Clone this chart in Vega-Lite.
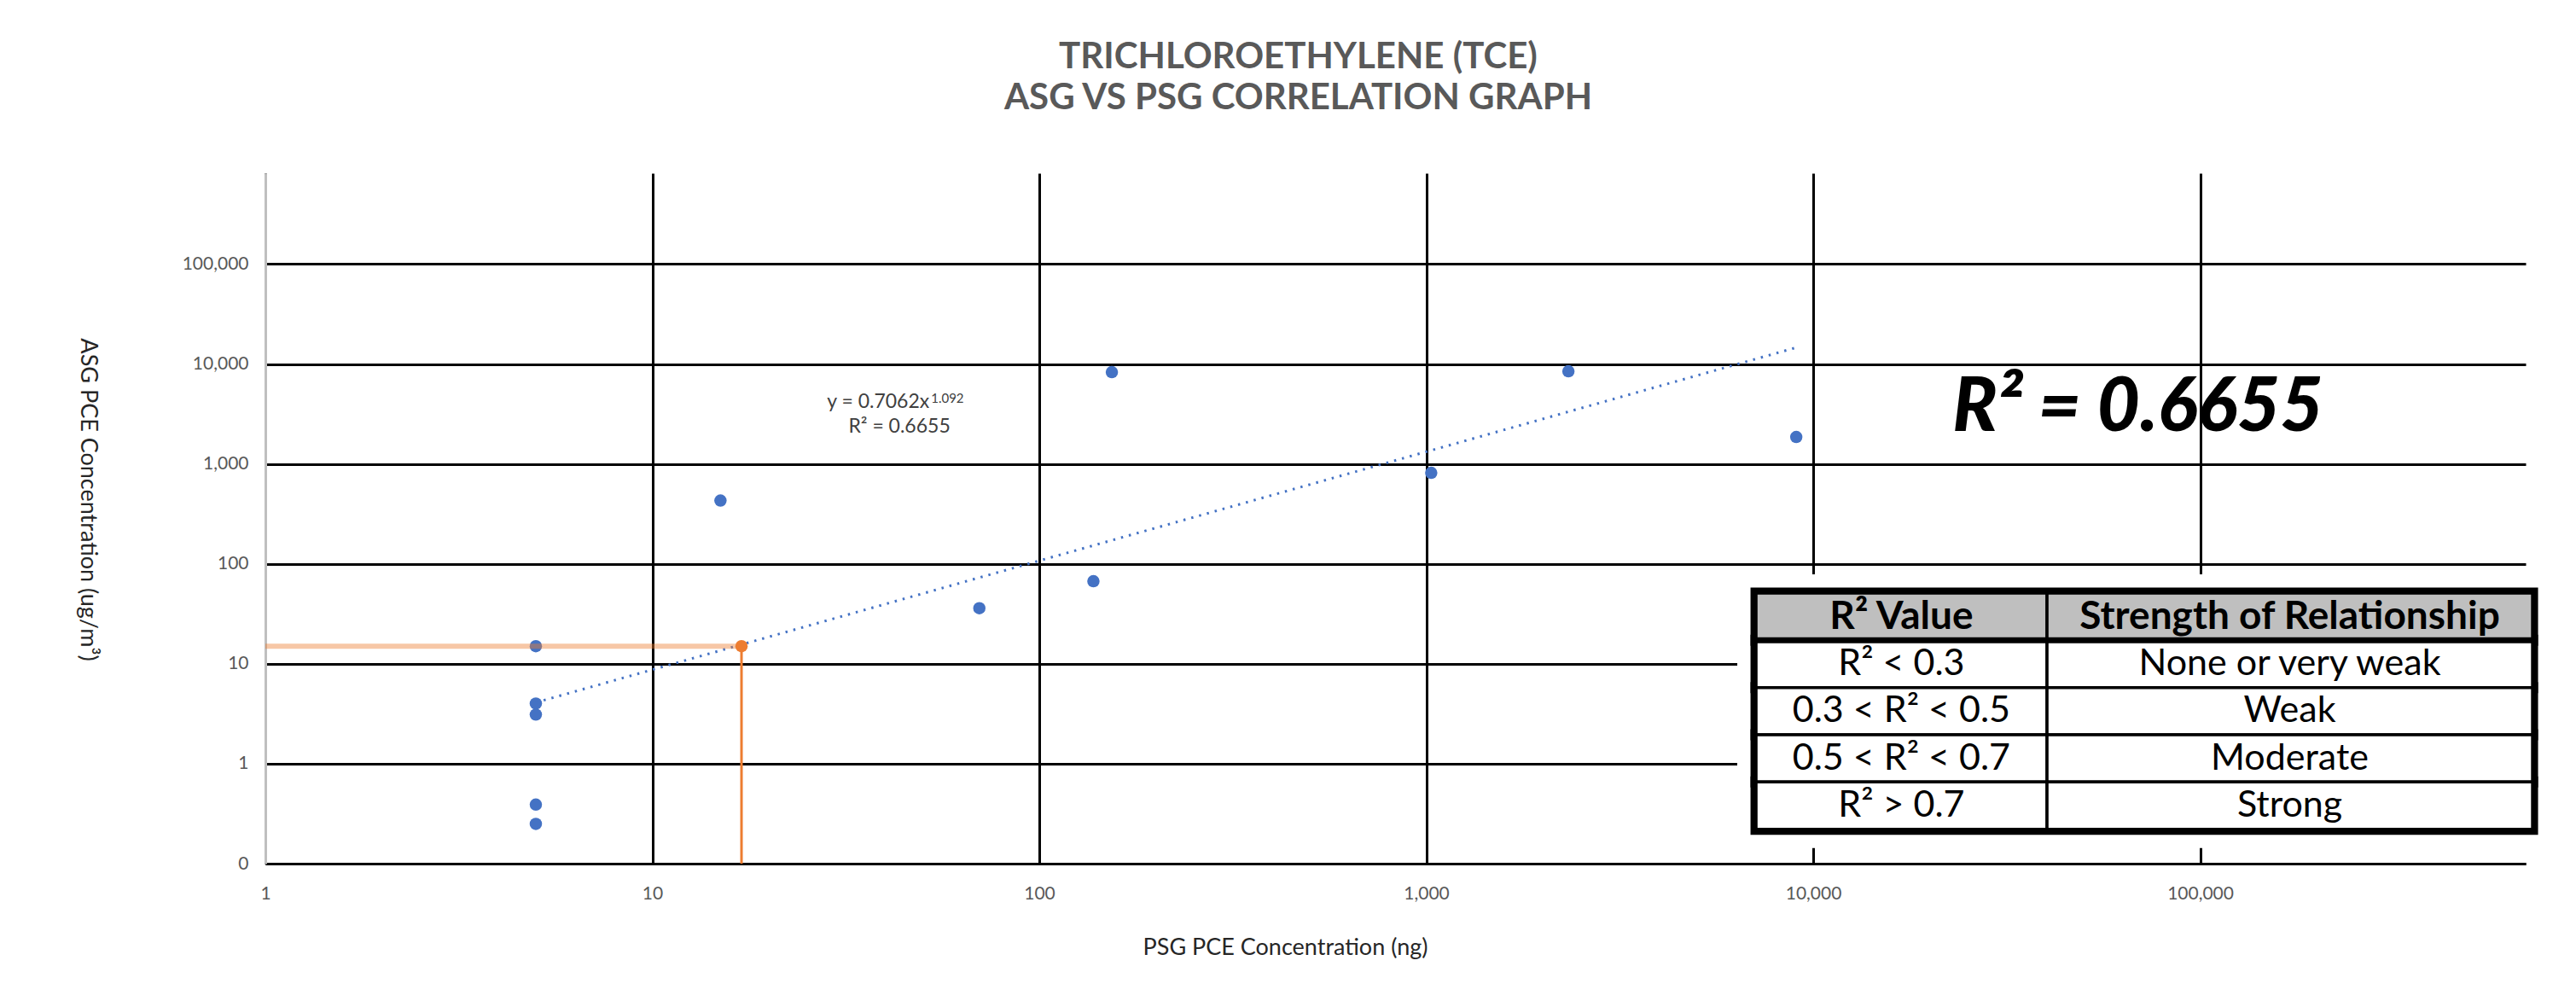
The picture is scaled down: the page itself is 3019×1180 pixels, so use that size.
{
  "$schema": "https://vega.github.io/schema/vega-lite/v6.json",
  "width": 2649,
  "height": 809,
  "autosize": {"type": "none"},
  "padding": {"left": 311, "top": 203, "right": 59, "bottom": 168},
  "background": "white",
  "config": {"view": {"stroke": null}, "font": "Lato"},
  "title": {
    "text": ["TRICHLOROETHYLENE (TCE)", "ASG VS PSG CORRELATION GRAPH"],
    "font": "Lato",
    "fontSize": 42,
    "fontWeight": "bold",
    "color": "#595959",
    "anchor": "middle",
    "frame": "group",
    "dx": -114,
    "offset": 66,
    "lineHeight": 48
  },
  "layer": [
    {
      "data": {"values": [
        {"psg": 5, "asg": 15},
        {"psg": 5, "asg": 4.0},
        {"psg": 5, "asg": 3.1},
        {"psg": 5, "asg": 0.39},
        {"psg": 5, "asg": 0.25},
        {"psg": 15, "asg": 430},
        {"psg": 70, "asg": 36},
        {"psg": 138, "asg": 67},
        {"psg": 154, "asg": 8300},
        {"psg": 1030, "asg": 815},
        {"psg": 2330, "asg": 8460},
        {"psg": 9040, "asg": 1860}
      ]},
      "layer": [
        {
          "mark": {"type": "circle", "size": 210, "color": "#4472C4", "opacity": 1},
          "encoding": {
            "x": {
              "field": "psg", "type": "quantitative",
              "scale": {"type": "log", "domain": [1, 693600], "nice": false},
              "axis": {
                "values": [1, 10, 100, 1000, 10000, 100000],
                "format": ",",
                "title": "PSG PCE Concentration (ng)",
                "grid": true,
                "gridColor": "black",
                "gridWidth": 3,
                "gridOpacity": 1,
                "ticks": false,
                "tickSize": 0,
                "domainColor": "black",
                "domainWidth": 3,
                "labelFont": "Lato",
                "labelFontSize": 21,
                "labelColor": "#595959",
                "labelPadding": 24,
                "labelFlush": false,
                "labelOverlap": false,
                "titleFont": "Lato",
                "titleFontSize": 27,
                "titleFontWeight": "normal",
                "titleColor": "#262626",
                "titleX": 1195,
                "titleY": 106,
                "titleAlign": "center",
                "titleBaseline": "alphabetic"
              }
            },
            "y": {
              "field": "asg", "type": "quantitative",
              "scale": {"type": "log", "domain": [0.1, 811000], "nice": false},
              "axis": {
                "values": [0.1, 1, 10, 100, 1000, 10000, 100000],
                "labelExpr": "datum.value < 1 ? '0' : format(datum.value, ',')",
                "title": "ASG PCE Concentration (ug/m³)",
                "grid": true,
                "gridColor": "black",
                "gridWidth": 3,
                "gridOpacity": 1,
                "ticks": false,
                "tickSize": 0,
                "domainColor": "#bfbfbf",
                "domainWidth": 3,
                "labelFont": "Lato",
                "labelFontSize": 21,
                "labelColor": "#595959",
                "labelPadding": 20,
                "labelOverlap": false,
                "labelFlush": false,
                "titleFont": "Lato",
                "titleFontSize": 27,
                "titleFontWeight": "normal",
                "titleColor": "#262626",
                "titleAngle": 90,
                "titleX": -217,
                "titleY": 382,
                "titleAlign": "center",
                "titleBaseline": "alphabetic"
              }
            }
          }
        },
        {
          "transform": [{"regression": "asg", "on": "psg", "method": "pow"}],
          "mark": {"type": "line", "color": "#4472C4", "strokeWidth": 3, "strokeDash": [2.5, 7]},
          "encoding": {
            "x": {"field": "psg", "type": "quantitative", "scale": {"type": "log"}},
            "y": {"field": "asg", "type": "quantitative", "scale": {"type": "log"}}
          }
        },
        {
          "data": {"values": [{"psg": 17, "asg": 15}]},
          "mark": {"type": "rule", "color": "#ED7D31", "opacity": 0.43, "strokeWidth": 6},
          "encoding": {
            "x": {"field": "psg", "type": "quantitative", "scale": {"type": "log"}},
            "x2": {"datum": 1},
            "y": {"field": "asg", "type": "quantitative", "scale": {"type": "log"}}
          }
        },
        {
          "data": {"values": [{"psg": 17, "asg": 15}]},
          "mark": {"type": "rule", "color": "#ED7D31", "strokeWidth": 3},
          "encoding": {
            "x": {"field": "psg", "type": "quantitative", "scale": {"type": "log"}},
            "y": {"field": "asg", "type": "quantitative", "scale": {"type": "log"}},
            "y2": {"datum": 0.1}
          }
        },
        {
          "data": {"values": [{"psg": 17, "asg": 15}]},
          "mark": {"type": "circle", "size": 210, "color": "#ED7D31", "opacity": 1},
          "encoding": {
            "x": {"field": "psg", "type": "quantitative", "scale": {"type": "log"}},
            "y": {"field": "asg", "type": "quantitative", "scale": {"type": "log"}}
          }
        },
        {
          "data": {"values": [{"label": "y = 0.7062x"}]},
          "mark": {"type": "text", "font": "Lato", "fontSize": 23, "color": "#404040", "align": "right", "baseline": "alphabetic"},
          "encoding": {
            "x": {"datum": 52, "type": "quantitative", "scale": {"type": "log"}},
            "y": {"datum": 3630, "type": "quantitative", "scale": {"type": "log"}},
            "text": {"field": "label"}
          }
        },
        {
          "data": {"values": [{"label": "1.092"}]},
          "mark": {"type": "text", "font": "Lato", "fontSize": 15, "color": "#404040", "align": "left", "baseline": "alphabetic", "dx": 2},
          "encoding": {
            "x": {"datum": 52, "type": "quantitative", "scale": {"type": "log"}},
            "y": {"datum": 4087, "type": "quantitative", "scale": {"type": "log"}},
            "text": {"field": "label"}
          }
        },
        {
          "data": {"values": [{"label": "R² = 0.6655"}]},
          "mark": {"type": "text", "font": "Lato", "fontSize": 23, "color": "#404040", "align": "center", "baseline": "alphabetic"},
          "encoding": {
            "x": {"datum": 43.5, "type": "quantitative", "scale": {"type": "log"}},
            "y": {"datum": 2054, "type": "quantitative", "scale": {"type": "log"}},
            "text": {"field": "label"}
          }
        },
        {
          "data": {"values": [{"label": "R² = 0.6655"}]},
          "mark": {"type": "text", "font": "Lato", "fontSize": 87, "fontWeight": 900, "fontStyle": "italic", "color": "black", "align": "center", "baseline": "alphabetic"},
          "encoding": {
            "x": {"datum": 69000, "type": "quantitative", "scale": {"type": "log"}},
            "y": {"datum": 2136, "type": "quantitative", "scale": {"type": "log"}},
            "text": {"field": "label"}
          }
        }
      ]
    },
    {
      "data": {"values": [
        {"kind": "header", "r2": "R² Value", "strength": "Strength of Relationship"},
        {"kind": "row", "r2": "R² < 0.3", "strength": "None or very weak"},
        {"kind": "row", "r2": "0.3 < R² < 0.5", "strength": "Weak"},
        {"kind": "row", "r2": "0.5 < R² < 0.7", "strength": "Moderate"},
        {"kind": "row", "r2": "R² > 0.7", "strength": "Strong"}
      ]},
      "layer": [
        {
          "mark": {"type": "rect", "fill": "white", "stroke": "white", "strokeWidth": 44},
          "encoding": {
            "x": {"datum": 7117, "type": "quantitative", "scale": {"type": "log"}},
            "x2": {"datum": 722500},
            "y": {"field": "r2", "type": "nominal", "axis": null,
                  "scale": {"type": "band", "domain": ["R² Value", "R² < 0.3", "0.3 < R² < 0.5", "0.5 < R² < 0.7", "R² > 0.7"], "paddingInner": 0, "paddingOuter": 0, "range": [492, 768.7]}}
          }
        },
        {
          "mark": {"type": "rect", "fillOpacity": 0, "stroke": "black", "strokeWidth": 13},
          "encoding": {
            "x": {"datum": 7117, "type": "quantitative", "scale": {"type": "log"}},
            "x2": {"datum": 722500},
            "y": {"field": "r2", "type": "nominal", "axis": null,
                  "scale": {"type": "band", "domain": ["R² Value", "R² < 0.3", "0.3 < R² < 0.5", "0.5 < R² < 0.7", "R² > 0.7"], "paddingInner": 0, "paddingOuter": 0, "range": [492, 768.7]}}
          }
        },
        {
          "mark": {"type": "rect", "stroke": "black", "strokeWidth": 3.5},
          "encoding": {
            "x": {"datum": 7117, "type": "quantitative", "scale": {"type": "log"}},
            "x2": {"datum": 40200},
            "y": {"field": "r2", "type": "nominal", "axis": null,
                  "scale": {"type": "band", "domain": ["R² Value", "R² < 0.3", "0.3 < R² < 0.5", "0.5 < R² < 0.7", "R² > 0.7"], "paddingInner": 0, "paddingOuter": 0, "range": [492, 768.7]}},
            "fill": {"condition": {"test": "datum.kind === 'header'", "value": "#bfbfbf"}, "value": "white"}
          }
        },
        {
          "mark": {"type": "rect", "stroke": "black", "strokeWidth": 3.5},
          "encoding": {
            "x": {"datum": 40200, "type": "quantitative", "scale": {"type": "log"}},
            "x2": {"datum": 722500},
            "y": {"field": "r2", "type": "nominal", "axis": null,
                  "scale": {"type": "band", "domain": ["R² Value", "R² < 0.3", "0.3 < R² < 0.5", "0.5 < R² < 0.7", "R² > 0.7"], "paddingInner": 0, "paddingOuter": 0, "range": [492, 768.7]}},
            "fill": {"condition": {"test": "datum.kind === 'header'", "value": "#bfbfbf"}, "value": "white"}
          }
        },
        {
          "transform": [{"filter": "datum.kind === 'header'"}],
          "mark": {"type": "rule", "color": "black", "strokeWidth": 7},
          "encoding": {
            "x": {"datum": 7117, "type": "quantitative", "scale": {"type": "log"}},
            "x2": {"datum": 722500},
            "y": {"field": "r2", "type": "nominal", "axis": null, "bandPosition": 1,
                  "scale": {"type": "band", "domain": ["R² Value", "R² < 0.3", "0.3 < R² < 0.5", "0.5 < R² < 0.7", "R² > 0.7"], "paddingInner": 0, "paddingOuter": 0, "range": [492, 768.7]}}
          }
        },
        {
          "transform": [{"filter": "datum.kind === 'header'"}],
          "mark": {"type": "text", "font": "Lato", "fontSize": 46, "fontWeight": "bold", "color": "black", "align": "center", "baseline": "middle"},
          "encoding": {
            "x": {"datum": 16900, "type": "quantitative", "scale": {"type": "log"}},
            "y": {"field": "r2", "type": "nominal", "axis": null,
                  "scale": {"type": "band", "domain": ["R² Value", "R² < 0.3", "0.3 < R² < 0.5", "0.5 < R² < 0.7", "R² > 0.7"], "paddingInner": 0, "paddingOuter": 0, "range": [492, 768.7]}},
            "text": {"field": "r2"}
          }
        },
        {
          "transform": [{"filter": "datum.kind === 'header'"}],
          "mark": {"type": "text", "font": "Lato", "fontSize": 46, "fontWeight": "bold", "color": "black", "align": "center", "baseline": "middle"},
          "encoding": {
            "x": {"datum": 170400, "type": "quantitative", "scale": {"type": "log"}},
            "y": {"field": "r2", "type": "nominal", "axis": null,
                  "scale": {"type": "band", "domain": ["R² Value", "R² < 0.3", "0.3 < R² < 0.5", "0.5 < R² < 0.7", "R² > 0.7"], "paddingInner": 0, "paddingOuter": 0, "range": [492, 768.7]}},
            "text": {"field": "strength"}
          }
        },
        {
          "transform": [{"filter": "datum.kind === 'row'"}],
          "mark": {"type": "text", "font": "Lato", "fontSize": 43, "color": "black", "align": "center", "baseline": "middle"},
          "encoding": {
            "x": {"datum": 16900, "type": "quantitative", "scale": {"type": "log"}},
            "y": {"field": "r2", "type": "nominal", "axis": null,
                  "scale": {"type": "band", "domain": ["R² Value", "R² < 0.3", "0.3 < R² < 0.5", "0.5 < R² < 0.7", "R² > 0.7"], "paddingInner": 0, "paddingOuter": 0, "range": [492, 768.7]}},
            "text": {"field": "r2"}
          }
        },
        {
          "transform": [{"filter": "datum.kind === 'row'"}],
          "mark": {"type": "text", "font": "Lato", "fontSize": 43, "color": "black", "align": "center", "baseline": "middle"},
          "encoding": {
            "x": {"datum": 170400, "type": "quantitative", "scale": {"type": "log"}},
            "y": {"field": "r2", "type": "nominal", "axis": null,
                  "scale": {"type": "band", "domain": ["R² Value", "R² < 0.3", "0.3 < R² < 0.5", "0.5 < R² < 0.7", "R² > 0.7"], "paddingInner": 0, "paddingOuter": 0, "range": [492, 768.7]}},
            "text": {"field": "strength"}
          }
        }
      ]
    }
  ],
  "resolve": {"scale": {"y": "independent"}}
}
